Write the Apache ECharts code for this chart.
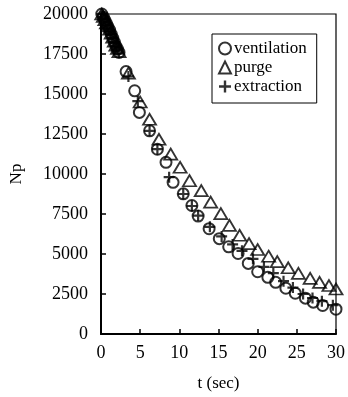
<!DOCTYPE html>
<html><head><meta charset="utf-8">
<script src="https://cdn.jsdelivr.net/npm/echarts@6/dist/echarts.min.js"></script>
<style>html,body{margin:0;padding:0;background:#fff}#c{width:348px;height:397px}</style>
</head><body><div id="c"></div>
<script>
const ventT = [0.1,0.3,0.5,0.7,0.9,1.1,1.3,1.5,1.7,1.9,2.1,2.3,3.2,4.3,4.9,6.2,7.2,8.3,9.2,10.5,11.6,12.4,13.8,15.1,16.3,17.5,18.8,20.0,21.3,22.3,23.6,24.8,26.1,27.1,28.3,30.0];
const ventN = [20000,19800,19600,19400,19200,19000,18750,18500,18250,18000,17800,17600,16400,15200,13850,12700,11550,10730,9480,8760,8030,7370,6580,5960,5450,5030,4410,3890,3540,3230,2860,2550,2240,1990,1780,1550];
const purgeT = [0.1,0.3,0.5,0.7,0.9,1.1,1.3,1.5,1.7,1.9,2.1,2.3,3.5,5.0,6.2,7.4,8.9,10.1,11.3,12.8,14.0,15.3,16.4,17.7,18.9,20.0,21.4,22.5,23.9,25.2,26.7,27.9,29.1,30.0];
const purgeN = [20000,19850,19650,19450,19250,19050,18800,18550,18300,18050,17850,17650,16300,14500,13420,12170,11240,10420,9580,8960,8240,7520,6790,6170,5650,5280,4860,4520,4140,3790,3480,3230,3030,2810];
const extrT = [0.1,0.3,0.5,0.7,0.9,1.1,1.3,1.5,1.7,1.9,2.1,2.3,3.5,4.7,6.2,7.2,8.7,10.5,11.6,12.4,13.9,15.4,16.8,18.0,19.4,20.8,22.0,23.3,24.5,25.8,27.0,28.2,29.6];
const extrN = [20000,19800,19600,19400,19200,19000,18750,18500,18250,18000,17800,17600,16100,14550,12700,11550,9800,8750,8000,7400,6700,6100,5600,5200,4700,4200,3800,3300,2900,2500,2250,2050,1800];
const xTicks = [0,5,10,15,20,25,30];
const yTicks = [0,2500,5000,7500,10000,12500,15000,17500,20000];

const zip = (a,b)=>a.map((v,i)=>[v,b[i]]);
const FONT = 'Liberation Serif';
const chart = echarts.init(document.getElementById('c'), null, {renderer:'canvas'});
const lbl = {color:'#000',fontFamily:FONT,fontSize:18,formatter:v=>String(v)};
const axisCommon = {
  axisLine:{show:true,lineStyle:{color:'#000',width:2}},
  axisTick:{show:true,inside:true,length:5,lineStyle:{color:'#000',width:1.5}},
  splitLine:{show:false},
  nameTextStyle:{color:'#000',fontFamily:FONT,fontSize:17}
};
const plus = 'path://M4,0H6V4H10V6H6V10H4V6H0V4H4Z';
chart.setOption({
  animation:false,
  backgroundColor:'#fff',
  grid:{left:96,right:9,top:14,bottom:61,show:true,borderColor:'#000',borderWidth:1.2},
  xAxis:Object.assign({type:'value',min:xTicks[0],max:xTicks[xTicks.length-1],interval:5,
    name:'t (sec)',nameLocation:'middle',nameGap:41},axisCommon,
    {axisLabel:Object.assign({},lbl,{margin:10})}),
  yAxis:Object.assign({type:'value',min:yTicks[0],max:yTicks[yTicks.length-1],interval:2500,
    name:'Np',nameLocation:'middle',nameGap:76,nameRotate:90},axisCommon,
    {axisLabel:Object.assign({},lbl,{margin:13})}),
  legend:{orient:'vertical',left:212,top:34,itemWidth:12,itemHeight:12,itemGap:2,
    padding:[6,10,8,6],borderColor:'#000',borderWidth:1,
    textStyle:{color:'#000',fontFamily:FONT,fontSize:17,padding:[0,0,0,-2]},
    data:['ventilation','purge','extraction']},
  series:[
    {name:'ventilation',type:'scatter',data:zip(ventT,ventN),symbol:'circle',symbolSize:11,
      itemStyle:{color:'rgba(0,0,0,0)',borderColor:'#000',borderWidth:2}},
    {name:'purge',type:'scatter',data:zip(purgeT,purgeN),symbol:'triangle',symbolSize:[13,11],
      itemStyle:{color:'rgba(0,0,0,0)',borderColor:'#000',borderWidth:1.8}},
    {name:'extraction',type:'scatter',data:zip(extrT,extrN),symbol:plus,symbolSize:11,
      itemStyle:{color:'#000',borderWidth:0}}
  ]
});
</script></body></html>
